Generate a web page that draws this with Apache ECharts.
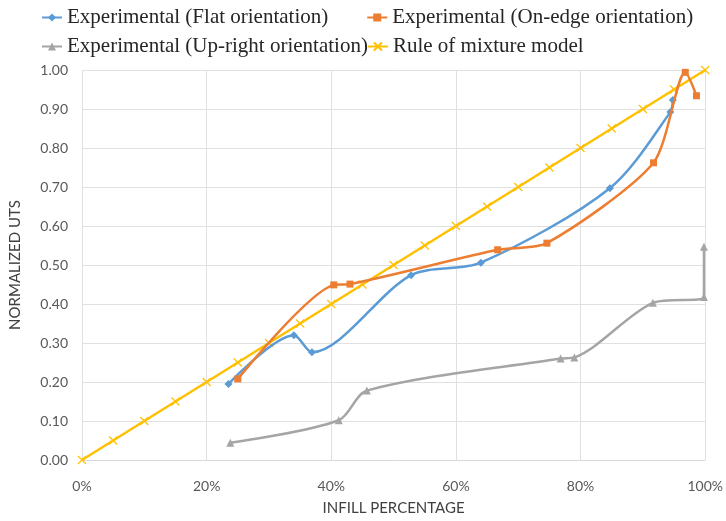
<!DOCTYPE html>
<html>
<head>
<meta charset="utf-8">
<script src="https://cdn.jsdelivr.net/npm/echarts@6/dist/echarts.min.js"></script>
<style>
  html, body { margin: 0; padding: 0; background: #fff; }
  #chart { width: 726px; height: 521px; }
</style>
</head>
<body>
<div id="chart"></div>
<script>
// Infill percentage (x) vs normalized UTS (y) for each print orientation
const flatX = [23.5, 34.0, 36.9, 52.8, 64.0, 84.7, 94.4, 94.8];
const flatY = [0.195, 0.320, 0.276, 0.474, 0.506, 0.697, 0.892, 0.923];

const edgeX = [25.0, 40.4, 43.0, 66.7, 74.6, 91.7, 96.8, 98.6];
const edgeY = [0.208, 0.449, 0.451, 0.539, 0.556, 0.762, 0.994, 0.934];

const uprightX = [23.8, 41.2, 45.7, 76.8, 79.0, 91.6, 99.8, 99.8];
const uprightY = [0.044, 0.102, 0.178, 0.260, 0.263, 0.403, 0.418, 0.547];

const ruleX = [0, 5, 10, 15, 20, 25, 30, 35, 40, 45, 50, 55, 60, 65, 70, 75, 80, 85, 90, 95, 100];
const ruleY = [0, 0.05, 0.10, 0.15, 0.20, 0.25, 0.30, 0.35, 0.40, 0.45, 0.50, 0.55, 0.60, 0.65, 0.70, 0.75, 0.80, 0.85, 0.90, 0.95, 1.00];

const seriesNames = [
  'Experimental (Flat orientation)',
  'Experimental (On-edge orientation)',
  'Experimental (Up-right orientation)',
  'Rule of mixture model'
];

const pairs = (xs, ys) => xs.map((x, i) => [x, ys[i]]);

const crossPath = 'path://M0,0 L10,10 M10,0 L0,10';

const chart = echarts.init(document.getElementById('chart'), null, { renderer: 'canvas' });

const legendText = {
  fontFamily: '"Liberation Serif", "DejaVu Serif", serif',
  fontSize: 21,
  color: '#262626'
};

const axisFont = 'Lato, "Open Sans", sans-serif';

chart.setOption({
  animation: false,
  backgroundColor: '#fff',
  legend: [
    {
      data: [seriesNames[0], seriesNames[1]],
      left: 36, top: 2,
      itemWidth: 20, itemHeight: 10, itemGap: 38,
      textStyle: legendText
    },
    {
      data: [seriesNames[2], seriesNames[3]],
      left: 36, top: 31,
      itemWidth: 20, itemHeight: 10, itemGap: -1,
      textStyle: legendText
    }
  ],
  grid: { left: 79, right: 19, top: 70, bottom: 61, containLabel: false },
  xAxis: {
    type: 'value',
    min: 0, max: 100, interval: 20,
    name: 'INFILL PERCENTAGE',
    nameLocation: 'middle',
    nameGap: 41,
    nameTextStyle: { fontFamily: axisFont, fontSize: 15, color: '#404040' },
    axisLine: { show: true, lineStyle: { color: '#d9d9d9', width: 1 } },
    axisTick: { show: false },
    axisLabel: {
      formatter: '{value}%',
      margin: 19,
      fontFamily: axisFont, fontSize: 14, color: '#595959'
    },
    splitLine: { show: true, lineStyle: { color: '#e0e0e0', width: 1 } }
  },
  yAxis: {
    type: 'value',
    min: 0, max: 1, interval: 0.1,
    name: 'NORMALIZED UTS',
    nameLocation: 'middle',
    nameGap: 59,
    nameRotate: 90,
    nameTextStyle: { fontFamily: axisFont, fontSize: 15, color: '#404040' },
    axisLine: { show: false },
    axisTick: { show: false },
    axisLabel: {
      formatter: v => v.toFixed(2),
      margin: 14,
      fontFamily: axisFont, fontSize: 14, color: '#595959'
    },
    splitLine: { show: true, lineStyle: { color: '#e0e0e0', width: 1 } }
  },
  series: [
    {
      name: seriesNames[3],
      type: 'line',
      data: pairs(ruleX, ruleY),
      color: '#FFC000',
      lineStyle: { width: 2.5 },
      symbol: crossPath,
      symbolSize: 8,
      itemStyle: { color: '#FFC000', borderColor: '#FFC000', borderWidth: 1.2 },
      z: 1
    },
    {
      name: seriesNames[0],
      type: 'line',
      data: pairs(flatX, flatY),
      color: '#5B9BD5',
      smooth: 0.3,
      lineStyle: { width: 2.5 },
      symbol: 'diamond',
      symbolSize: 8,
      itemStyle: { color: '#5B9BD5' },
      z: 3
    },
    {
      name: seriesNames[1],
      type: 'line',
      data: pairs(edgeX, edgeY),
      color: '#ED7D31',
      smooth: 0.25,
      lineStyle: { width: 2.5 },
      symbol: 'rect',
      symbolSize: 7,
      itemStyle: { color: '#ED7D31' },
      z: 4
    },
    {
      name: seriesNames[2],
      type: 'line',
      data: pairs(uprightX, uprightY),
      color: '#A5A5A5',
      smooth: 0.3,
      lineStyle: { width: 2.5 },
      symbol: 'triangle',
      symbolSize: 8,
      itemStyle: { color: '#A5A5A5' },
      z: 2
    }
  ]
});
</script>
</body>
</html>
